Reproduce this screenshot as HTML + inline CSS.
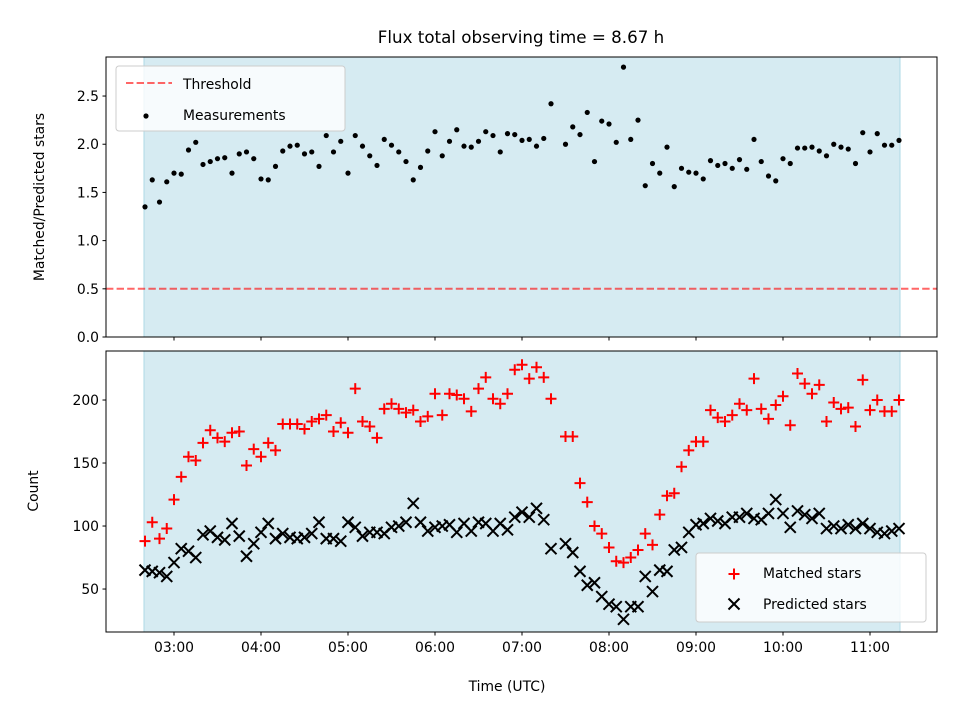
<!DOCTYPE html>
<html><head><meta charset="utf-8"><style>
html,body{margin:0;padding:0;background:#fff;}
svg{display:block;font-family:"DejaVu Sans","Liberation Sans",sans-serif;}
</style></head><body>
<svg id="chart" width="960" height="720" viewBox="0 0 960 720" xmlns="http://www.w3.org/2000/svg">
<rect x="0" y="0" width="960" height="720" fill="#fff"/>
<text x="521" y="43" font-size="16.7" text-anchor="middle" fill="#000">Flux total observing time = 8.67 h</text>
<g id="topPanel"></g>
<g id="botPanel"></g>
<text transform="translate(44,197) rotate(-90)" font-size="13.9" text-anchor="middle">Matched/Predicted stars</text>
<text transform="translate(38,491) rotate(-90)" font-size="13.9" text-anchor="middle">Count</text>
<text x="507" y="691" font-size="13.9" text-anchor="middle">Time (UTC)</text>
</svg>
<script>
const startMinutes = 160; // 02:40 UTC
const stepMinutes = 5;
const ratio = [1.35,1.63,1.40,1.61,1.70,1.69,1.94,2.02,1.79,1.82,1.85,1.86,1.70,1.90,1.92,1.85,1.64,1.63,1.77,1.93,1.98,1.99,1.90,1.92,1.77,2.09,1.92,2.03,1.70,2.09,1.98,1.88,1.78,2.05,1.99,1.92,1.82,1.63,1.76,1.93,2.13,1.88,2.03,2.15,1.98,1.97,2.03,2.13,2.09,1.92,2.11,2.10,2.04,2.05,1.98,2.06,2.42,null,2.00,2.18,2.10,2.33,1.82,2.24,2.21,2.02,2.80,2.05,2.25,1.57,1.80,1.70,1.97,1.56,1.75,1.71,1.70,1.64,1.83,1.78,1.80,1.75,1.84,1.74,2.05,1.82,1.67,1.62,1.85,1.80,1.96,1.96,1.97,1.93,1.88,2.00,1.97,1.95,1.80,2.12,1.92,2.11,1.99,1.99,2.04];
const matched = [88,103,90,98,121,139,155,152,166,176,170,167,174,175,148,161,155,166,160,181,181,181,177,183,185,188,175,182,174,209,183,179,170,193,197,193,190,192,183,187,205,188,205,204,201,191,209,218,201,197,205,224,228,217,226,218,201,null,171,171,134,119,100,94,83,72,71,75,81,94,85,109,124,126,147,160,167,167,192,186,183,188,197,192,217,193,185,196,203,180,221,213,205,212,183,198,193,194,179,216,192,200,191,191,200];
const predicted = [65,64,63,60,71,82,80,75,93,96,91,89,102,92,76,86,95,102,90,94,91,90,91,94,103,90,90,88,103,99,92,95,95,94,99,100,103,118,103,96,99,100,101,95,102,96,103,102,96,102,97,107,111,107,114,105,82,null,86,79,64,53,55,44,38,36,26,36,36,60,48,65,64,81,83,95,101,102,106,104,102,107,107,110,106,105,110,121,110,99,112,109,106,110,98,100,98,101,98,102,98,95,94,96,98];
const threshold = 0.5;
const xTickLabels = ["03:00","04:00","05:00","06:00","07:00","08:00","09:00","10:00","11:00"];
const xTickMinutes = [180,240,300,360,420,480,540,600,660];
const topYTicks = [0.0,0.5,1.0,1.5,2.0,2.5];
const botYTicks = [50,100,150,200];

const NS="http://www.w3.org/2000/svg";
function mk(tag,attrs,parent){const e=document.createElementNS(NS,tag);for(const k in attrs)e.setAttribute(k,attrs[k]);parent.appendChild(e);return e;}
const L=106,R=937;
const T1=57,B1=337,T2=351,B2=632;
function xs(m){return 174+(m-180)*87/60;}
function yTop(v){return B1-(v-0)*(B1-T1)/2.905;}
function yBot(v){return B2-(v-15.9)*(B2-T2)/(238.9-15.9);}
const times=ratio.map((_,i)=>startMinutes+i*stepMinutes);
const topG=document.getElementById('topPanel'), botG=document.getElementById('botPanel');

function axesFrame(g,T,B,yt,yf,fmt,showXLabels,name){
  const x0=xs(times[0]), x1=xs(times[times.length-1]);
  const span=mk('rect',{x:x0-1,y:T,width:x1-x0+2,height:B-T,fill:'#add8e6','fill-opacity':0.5,stroke:'#add8e6','stroke-width':1},g);
  
  
  yt.forEach(v=>{
    const y=yf(v);
    const tk=mk('line',{x1:L-3.5,x2:L,y1:y,y2:y,stroke:'#000','stroke-width':1},g);
    
    
    const t=mk('text',{x:L-7,y:y+5,'font-size':13.9,'text-anchor':'end'},g);
    t.textContent=fmt(v);
    
    
  });
  xTickMinutes.forEach((m,i)=>{
    const x=xs(m);
    const tk=mk('line',{x1:x,x2:x,y1:B,y2:B+3.5,stroke:'#000','stroke-width':1},g);
    
    
    if(showXLabels){
      const t=mk('text',{x:x,y:B+20,'font-size':13.9,'text-anchor':'middle'},g);
      t.textContent=xTickLabels[i];
      
      
    }
  });
}
function frameRect(g,T,B,name){
  const r=mk('rect',{x:L,y:T,width:R-L,height:B-T,fill:'none',stroke:'#000','stroke-width':1},g);
  
  
}

// top panel
axesFrame(topG,T1,B1,topYTicks,yTop,v=>v.toFixed(1),false,'top');
const th=mk('line',{x1:L,x2:R,y1:yTop(threshold),y2:yTop(threshold),stroke:'#ff0000','stroke-opacity':0.6,'stroke-width':2,'stroke-dasharray':'7.4,3.2'},topG);


ratio.forEach((v,i)=>{
  if(v==null)return;
  const c=mk('circle',{cx:xs(times[i]),cy:yTop(v),r:2.6,fill:'#000'},topG);
  
  
});
frameRect(topG,T1,B1,'top');
const lg1=mk('g',{},topG);


mk('rect',{x:116,y:66,width:229,height:65,rx:3,fill:'#fff','fill-opacity':0.8,stroke:'#cccccc','stroke-width':1},lg1);
mk('line',{x1:126,x2:172,y1:83,y2:83,stroke:'#ff0000','stroke-opacity':0.6,'stroke-width':2,'stroke-dasharray':'7.4,3.2'},lg1);
const lt1=mk('text',{x:183,y:89,'font-size':13.9},lg1);lt1.textContent='Threshold';


mk('circle',{cx:146,cy:116,r:2.6,fill:'#000'},lg1);
const lt2=mk('text',{x:183,y:120,'font-size':13.9},lg1);lt2.textContent='Measurements';



// bottom panel
axesFrame(botG,T2,B2,botYTicks,yBot,v=>String(v),true,'bottom');
function plus(g,x,y){return mk('path',{d:`M${x-5.5},${y}H${x+5.5}M${x},${y-5.5}V${y+5.5}`,stroke:'#ff0000','stroke-width':2,fill:'none'},g);}
function cross(g,x,y){return mk('path',{d:`M${x-5.5},${y-5.5}L${x+5.5},${y+5.5}M${x-5.5},${y+5.5}L${x+5.5},${y-5.5}`,stroke:'#000','stroke-width':2,fill:'none'},g);}
matched.forEach((v,i)=>{
  if(v==null)return;
  const p=plus(botG,xs(times[i]),yBot(v));
  
  
});
predicted.forEach((v,i)=>{
  if(v==null)return;
  const p=cross(botG,xs(times[i]),yBot(v));
  
  
});
frameRect(botG,T2,B2,'bottom');
const lg2=mk('g',{},botG);


mk('rect',{x:696,y:553,width:230,height:69,rx:3,fill:'#fff','fill-opacity':0.8,stroke:'#cccccc','stroke-width':1},lg2);
plus(lg2,734,574);
const lt3=mk('text',{x:763,y:578,'font-size':13.9},lg2);lt3.textContent='Matched stars';


cross(lg2,734,604);
const lt4=mk('text',{x:763,y:609,'font-size':13.9},lg2);lt4.textContent='Predicted stars';


</script>
</body></html>
